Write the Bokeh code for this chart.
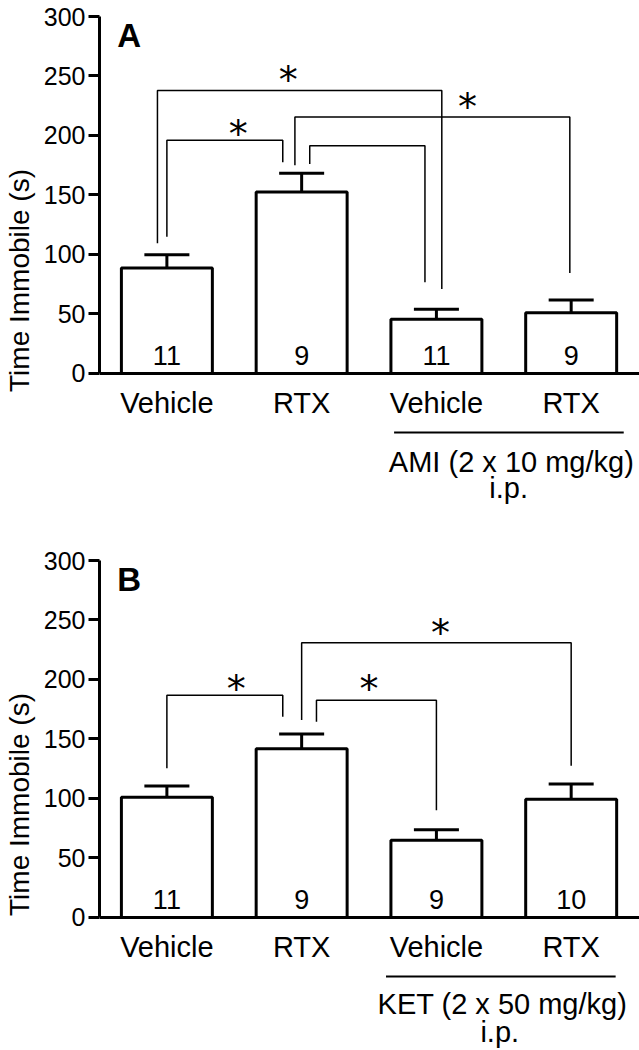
from bokeh.plotting import figure
from bokeh.models import Range1d, FixedTicker, ColumnDataSource
from bokeh.layouts import column
from bokeh.embed import file_html
from bokeh.resources import INLINE
from bokeh.core.properties import value

# ---------------- data ----------------
positions = [1, 2, 3, 4]
groups = ["Vehicle", "RTX", "Vehicle", "RTX"]
yticks = [0, 50, 100, 150, 200, 250, 300]

a_mean = [88.6, 152.5, 45.6, 51.1]
a_sem = [11.1, 15.8, 8.3, 10.6]
a_n = ["11", "9", "11", "9"]

b_mean = [101.0, 141.9, 64.9, 99.3]
b_sem = [9.5, 12.2, 8.9, 12.9]
b_n = ["11", "9", "9", "10"]

# significance brackets: left x, right x, top y, left leg end, right leg end
a_br_x0 = [1.0, 0.93, 1.95, 2.06]
a_br_x1 = [1.86, 3.04, 3.99, 2.915]
a_br_top = [196.0, 237.8, 215.6, 191.4]
a_br_lo0 = [115.0, 109.4, 175.0, 176.0]
a_br_lo1 = [177.5, 71.0, 84.4, 76.7]
a_star_x = [1.53, 1.9, 3.23]
a_star_y = [209.0, 254.0, 231.7]

b_br_x0 = [1.0, 2.0, 2.11]
b_br_x1 = [1.86, 4.0, 3.0]
b_br_top = [186.7, 230.8, 182.6]
b_br_lo0 = [125.5, 165.9, 164.4]
b_br_lo1 = [168.6, 127.5, 90.2]
b_star_x = [1.515, 3.03, 2.5]
b_star_y = [199.5, 246.5, 199.3]

a_drug = "AMI (2 x 10 mg/kg)"
b_drug = "KET (2 x 50 mg/kg)"
route = "i.p."

FONT = "Liberation Sans"


def make_panel(letter, mean, sem, n, bx0, bx1, btop, blo0, blo1, sx, sy,
               drug, height, ylow, line_x, drug_x, drug_y):
    p = figure(width=639, height=height, output_backend="svg",
               toolbar_location=None, x_range=Range1d(0.5, 4.507),
               y_range=Range1d(ylow, 300), min_border_left=98,
               min_border_right=0, min_border_top=16, min_border_bottom=0)
    p.outline_line_color = None
    p.grid.visible = False
    p.background_fill_color = "white"
    p.border_fill_color = "white"

    # y axis (line only from 0 to 300)
    ya = p.yaxis[0]
    ya.bounds = (0, 300)
    ya.ticker = FixedTicker(ticks=yticks)
    ya.minor_tick_line_color = None
    ya.major_tick_in = 0
    ya.major_tick_out = 11
    ya.major_tick_line_width = 3
    ya.axis_line_width = 3
    ya.major_label_standoff = 3
    ya.major_label_text_font = FONT
    ya.major_label_text_font_size = "25px"
    ya.major_label_text_color = "black"
    ya.axis_label = "Time Immobile (s)"
    ya.axis_label_text_font = FONT
    ya.axis_label_text_font_size = "28px"
    ya.axis_label_text_font_style = "normal"
    ya.axis_label_text_color = "black"
    ya.axis_label_standoff = 6

    # x axis drawn at y = 0
    xa = p.xaxis[0]
    xa.fixed_location = 0
    xa.ticker = FixedTicker(ticks=positions)
    xa.major_label_overrides = {pos: g for pos, g in zip(positions, groups)}
    xa.major_tick_line_color = None
    xa.minor_tick_line_color = None
    xa.axis_line_width = 3
    xa.major_label_standoff = 8
    xa.major_label_text_font = FONT
    xa.major_label_text_font_size = "29px"
    xa.major_label_text_color = "black"

    # brackets
    xs = [[a, a, b, b] for a, b in zip(bx0, bx1)]
    ys = [[l0, t, t, l1] for l0, t, l1 in zip(blo0, btop, blo1)]
    p.multi_line(xs=xs, ys=ys, line_color="black", line_width=1.5)

    # bars with SEM
    src = ColumnDataSource(dict(x=positions, top=mean,
                                up=[m + s for m, s in zip(mean, sem)],
                                n=n, ny=[15] * len(positions)))
    p.vbar(x="x", top="top", bottom=0, width=0.675, source=src,
           fill_color="white", line_color="black", line_width=3)
    p.segment(x0="x", y0="top", x1="x", y1="up", source=src,
              line_color="black", line_width=3)
    cap = ColumnDataSource(dict(x0=[x - 0.167 for x in positions],
                                x1=[x + 0.167 for x in positions],
                                y=[m + s for m, s in zip(mean, sem)]))
    p.segment(x0="x0", y0="y", x1="x1", y1="y", source=cap,
              line_color="black", line_width=3)
    p.text(x="x", y="ny", text="n", source=src, text_align="center",
           text_baseline="middle", text_font=value(FONT),
           text_font_size="27px", text_color="black")

    # stars
    p.text(x=sx, y=sy, text=["*"] * len(sx), text_align="center",
           text_baseline="middle", y_offset=9, text_font=value("DejaVu Sans"),
           text_font_size="38px", text_color="black")

    # panel letter
    p.text(x=[0.72], y=[284], text=[letter], text_align="center",
           text_baseline="middle", text_font=value(FONT),
           text_font_style="bold", text_font_size="33px", text_color="black")

    # group line and treatment labels under the last two bars
    p.segment(x0=[line_x[0]], y0=[-49.5], x1=[line_x[1]], y1=[-49.5],
              line_color="black", line_width=2)
    p.text(x=[drug_x, drug_x - 0.02], y=[drug_y, -96.5], text=[drug, route],
           text_align="center", text_baseline="middle",
           text_font=value(FONT), text_font_size="29px", text_color="black")
    return p


pa = make_panel("A", a_mean, a_sem, a_n, a_br_x0, a_br_x1, a_br_top,
                a_br_lo0, a_br_lo1, a_star_x, a_star_y, a_drug,
                544, -143.7, (2.686, 4.39), 3.556, -74.5)
pb = make_panel("B", b_mean, b_sem, b_n, b_br_x0, b_br_x1, b_br_top,
                b_br_lo0, b_br_lo1, b_star_x, b_star_y, b_drug,
                504, -110.1, (2.626, 4.33), 3.49, -72.5)

layout = column(pa, pb, spacing=0)
open("out.html", "w").write(file_html(layout, INLINE))
